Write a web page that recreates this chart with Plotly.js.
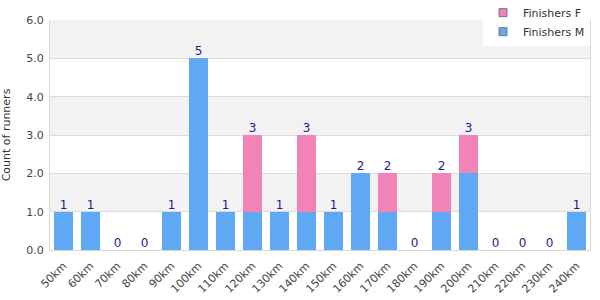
<!DOCTYPE html>
<html><head><meta charset="utf-8">
<script src="https://cdn.plot.ly/plotly-3.0.1.min.js"></script>
<style>html,body{margin:0;padding:0;background:#fff}#c{width:600px;height:300px}</style>
</head><body><div id="c"></div>
<script>
const categories = ["50km","60km","70km","80km","90km","100km","110km","120km","130km","140km","150km","160km","170km","180km","190km","200km","210km","220km","230km","240km"];
const finishersM = [1,1,0,0,1,5,1,1,1,1,1,2,1,0,1,2,0,0,0,1];
const finishersF = [0,0,0,0,0,0,0,2,0,2,0,0,1,0,1,1,0,0,0,0];
const yTicks = [0,1,2,3,4,5,6];

const totals = categories.map((c,i)=>finishersM[i]+finishersF[i]);
const blue = "#5fa8f3", pink = "#f283b9";

const bands = [];
for (let i=0;i<yTicks.length-1;i++){
  if (i%2===1) bands.push({type:"rect",xref:"paper",yref:"y",x0:0,x1:1,y0:yTicks[i],y1:yTicks[i+1],fillcolor:"#f2f2f2",line:{width:0},layer:"below"});
}

const traces = [
  {type:"bar",name:"Finishers M",x:categories,y:finishersM,marker:{color:blue,line:{width:0}},hoverinfo:"none",showlegend:false},
  {type:"bar",name:"Finishers F",x:categories,y:finishersF,marker:{color:pink,line:{width:0}},hoverinfo:"none",showlegend:false},
  {type:"scatter",mode:"text",x:categories,y:totals,text:totals.map(String),textposition:"top center",
   textfont:{color:"#1c1c8a",size:12,family:"DejaVu Sans"},showlegend:false,cliponaxis:false,hoverinfo:"none"},
  {type:"scatter",mode:"markers",name:"Finishers M",x:[null],y:[null],marker:{symbol:"square",size:8,color:blue,line:{color:"#777",width:1}}},
  {type:"scatter",mode:"markers",name:"Finishers F",x:[null],y:[null],marker:{symbol:"square",size:8,color:pink,line:{color:"#777",width:1}}}
];

const layout = {
  width:600,height:300,
  margin:{l:50,r:10,t:20,b:50,autoexpand:false},
  barmode:"stack",bargap:0.26,
  paper_bgcolor:"#fff",plot_bgcolor:"#fff",
  font:{family:"DejaVu Sans",size:11,color:"#444"},
  shapes:bands,
  xaxis:{type:"category",range:[-0.5,categories.length-0.5],tickangle:-45,showgrid:false,showline:true,linecolor:"#d8d8d8",linewidth:1,
    tickfont:{size:11,color:"#444"},ticks:"",ticklabelstandoff:4,fixedrange:true,automargin:false},
  yaxis:{range:[0,6],tickvals:yTicks,tickformat:".1f",showgrid:true,gridcolor:"#dcdcdc",gridwidth:1,automargin:false,
    showline:true,linecolor:"#d8d8d8",mirror:true,zeroline:false,ticks:"",tickfont:{size:11,color:"#444"},ticklabelstandoff:3,
    title:{text:"Count of runners",font:{size:11,color:"#333"},standoff:14}},
  legend:{x:1,xanchor:"right",y:1.095,yanchor:"top",bgcolor:"#ffffff",traceorder:"reversed",
    font:{size:11,color:"#333"},itemwidth:30,tracegroupgap:0},
};
Plotly.newPlot("c",traces,layout,{displayModeBar:false,staticPlot:true});
</script></body></html>
